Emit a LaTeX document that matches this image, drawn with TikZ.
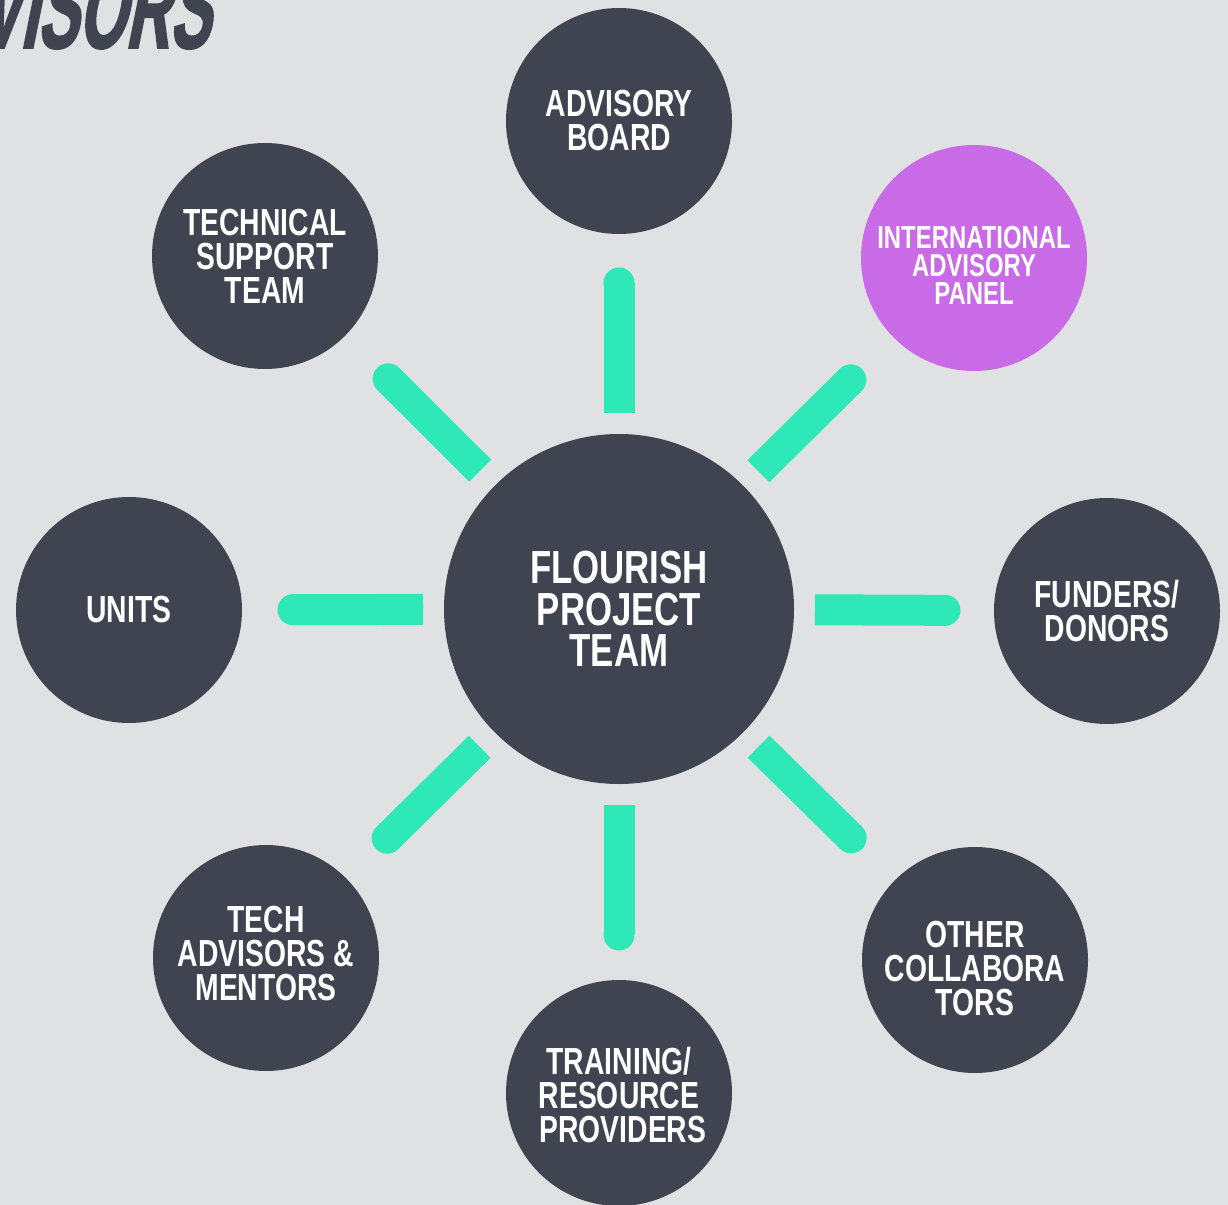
\documentclass[tikz,border=0pt]{standalone}
\usepackage{fontspec}
\newfontfamily\lab{Liberation Sans}[FakeStretch=0.75]
\newfontfamily\headfont{Liberation Sans}[FakeStretch=0.52,FakeSlant=0.2,FakeBold=1.5]
\usetikzlibrary{calc}
\definecolor{bg}{HTML}{E0E1E3}
\definecolor{dark}{HTML}{3F4450}
\definecolor{purp}{HTML}{C96BE6}
\definecolor{teal}{HTML}{2EE8B8}
\tikzset{
  bubble/.style={circle,fill=dark,minimum size=169.5pt,inner sep=0pt,text=white,align=center,
    font=\lab\bfseries\fontsize{28.3pt}{25.5pt}\selectfont},
  hub/.style={bubble,minimum size=262.5pt,font=\lab\bfseries\fontsize{34.8pt}{31pt}\selectfont},
  panel/.style={bubble,fill=purp,font=\lab\bfseries\fontsize{23.9pt}{21pt}\selectfont},
  spoke/.style={draw=teal,line width=23.25pt,line cap=butt},
}
\newcommand{\spoketo}[1]{%
  \draw[spoke] ($(hub)!147pt!(#1)$) -- ($(hub)!244.5pt!(#1)$);
  \fill[teal] ($(hub)!244.5pt!(#1)$) circle[radius=11.625pt];}
\begin{document}
\begin{tikzpicture}[x=0.75pt,y=-0.75pt]
\fill[bg] (0,0) rectangle (1228,1205);
\useasboundingbox (0,0) rectangle (1228,1205);
\node[anchor=base east,inner sep=0pt,text=dark,font=\headfont\bfseries\fontsize{88pt}{88pt}\selectfont] (head) at (210,48) {ADVISORS};
\node[hub] (hub) at (619,609) {FLOURISH\\PROJECT\\TEAM};
\node[bubble] (ab) at (619,121) {ADVISORY\\BOARD};
\node[bubble] (ts) at (265,256) {TECHNICAL\\SUPPORT\\TEAM};
\node[panel] (iap) at (974,258) {\rule{0pt}{27.9pt}INTERNATIONAL\\ADVISORY\\PANEL};
\node[bubble] (un) at (129,610) {UNITS};
\node[bubble] (fd) at (1107,611) {FUNDERS/\\DONORS};
\node[bubble] (ta) at (266,958) {TECH\\ADVISORS \&\\MENTORS\rule[-7.5pt]{0pt}{7.5pt}};
\node[bubble] (oc) at (975,960) {\rule{0pt}{32.6pt}OTHER\\COLLABORA\\TORS};
\node[bubble] (tr) at (619,1093) {\rule{0pt}{23.5pt}TRAINING/\\RESOURCE\\\ PROVIDERS};
\foreach \n in {ab,ts,iap,un,fd,ta,oc,tr} {\spoketo{\n}}
\end{tikzpicture}
\end{document}
